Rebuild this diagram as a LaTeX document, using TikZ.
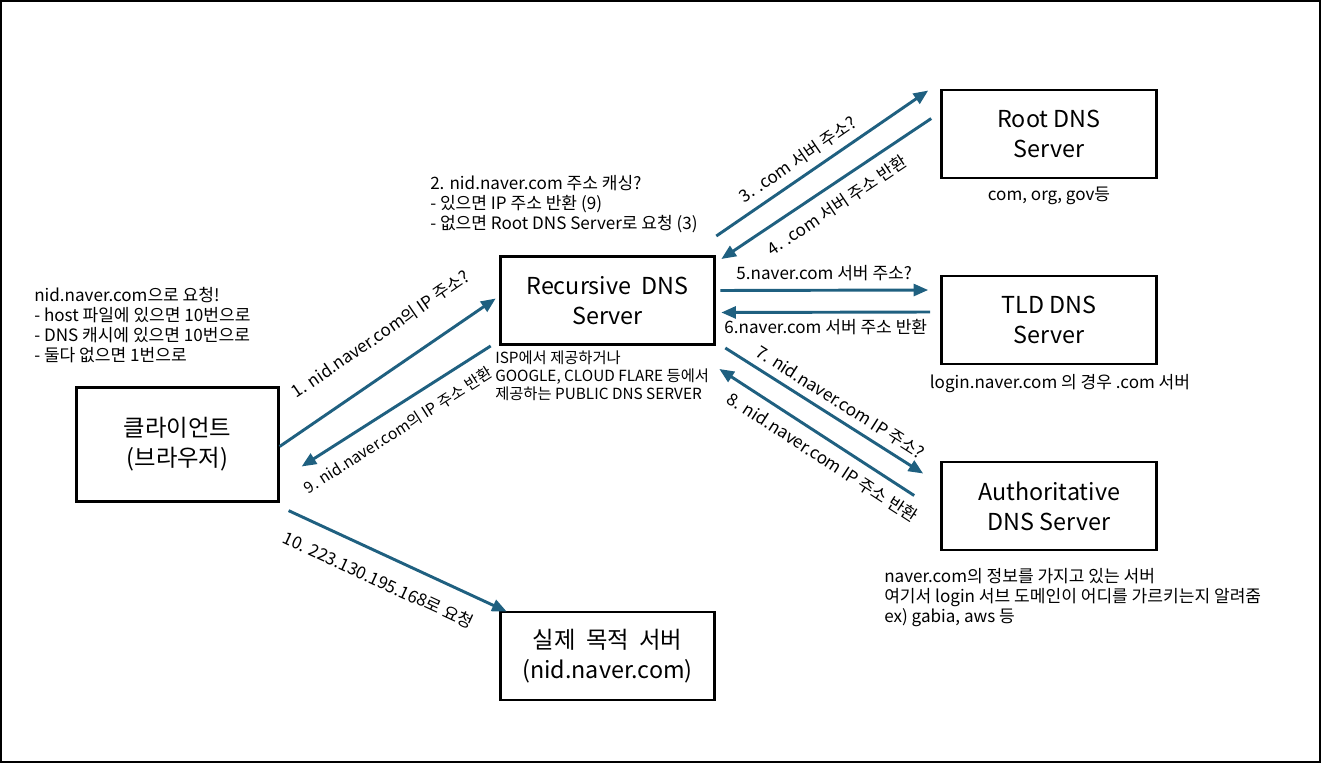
\documentclass[tikz,border=0pt]{standalone}
\usepackage{fontspec}
\setmainfont{Noto Sans CJK KR}
\usetikzlibrary{calc,arrows.meta}
\definecolor{arrowblue}{RGB}{31,96,128}
\tikzset{
  server/.style={draw, line width=2.2pt, minimum width=161pt, minimum height=66pt,
    align=center, font=\fontsize{17.5}{22.5}\selectfont},
  flow/.style={draw=arrowblue, line width=2.2pt, -{Triangle[length=11pt,width=9pt]}},
  lbl/.style={font=\fontsize{12.8}{15}\selectfont, sloped, inner sep=2pt},
  note/.style={font=\fontsize{12.8}{15}\selectfont, align=left, inner sep=0pt, anchor=north west},
}
\begin{document}
\begin{tikzpicture}[x=0.75pt, y=-0.75pt]
  % frame
  \useasboundingbox (0,0) rectangle (1321,763);
  \draw[line width=1.5pt] (1,1) rectangle (1320,762);
  % servers
  \node[server, minimum width=151pt, minimum height=85pt] (client) at (177.5,444.5) {클라이언트\\(브라우저)};
  \node[server] (rec) at (607.5,300.5) {Recursive \ DNS\\Server};
  \node[server] (root) at (1049,134) {Root DNS\\Server};
  \node[server] (tld) at (1049,320) {TLD DNS\\Server};
  \node[server] (auth) at (1049,506) {Authoritative\\DNS Server};
  \node[server] (real) at (607.5,656) {실제 \ 목적 \ 서버\\(nid.naver.com)};
  % notes
  \node[note] (clientnote) at (34,287) {nid.naver.com으로 요청!\\- host 파일에 있으면 10번으로\\- DNS 캐시에 있으면 10번으로\\- 둘다 없으면 1번으로};
  \node[note] (cachenote) at (430,175) {2. nid.naver.com 주소 캐싱?\\- 있으면 IP 주소 반환 (9)\\- 없으면 Root DNS Server로 요청 (3)};
  \node[note, font=\fontsize{11.5}{13.5}\selectfont] (recnote) at (495,351) {ISP에서 제공하거나\\GOOGLE, CLOUD FLARE 등에서\\제공하는 PUBLIC DNS SERVER};
  \node[note, anchor=center] (rootnote) at (1049,196) {com, org, gov등};
  \node[note, anchor=center] (tldnote) at (1060,384) {login.naver.com 의 경우 .com 서버};
  \node[note] (authnote) at (884,568) {naver.com의 정보를 가지고 있는 서버\\여기서 login 서브 도메인이 어디를 가르키는지 알려줌\\ex) gabia, aws 등};
  % client <-> recursive
  \draw[flow] ($(client.east)+(0,2)$) -- node[lbl, above=18pt, pos=0.56] {1. nid.naver.com의 IP 주소?} ($(rec.west)+(-3,-2)$);
  \draw[flow] ($(rec.south west)+(-8,0)$) -- node[lbl, below, inner sep=9.5pt, pos=0.55, font=\fontsize{11.8}{15}\selectfont] {9. nid.naver.com의 IP 주소 반환} ($(client.east)+(22,22)$);
  % recursive <-> root
  \draw[flow] ($(rec.north east)+(0,-19)$) -- node[lbl, above=4pt, pos=0.43] {3. .com 서버 주소?} ($(root.north west)+(-12,2)$);
  \draw[flow] ($(root.north west)+(-9,30)$) -- node[lbl, below, inner sep=8pt, pos=0.5] {4. .com 서버 주소 반환} ($(rec.north east)+(5,4)$);
  % recursive <-> tld
  \draw[flow] ($(rec.east)+(4,-10)$) -- node[lbl, above=4pt] {5.naver.com 서버 주소?} ($(tld.west)+(-12,-30)$);
  \draw[flow] ($(tld.west)+(-10,-8)$) -- node[lbl, below, inner sep=4.2pt] {6.naver.com 서버 주소 반환} ($(rec.east)+(5,12)$);
  % recursive <-> authoritative
  \draw[flow] ($(rec.south east)+(9,2)$) -- node[lbl, above=3pt, pos=0.54] {7. nid.naver.com IP 주소?} ($(auth.north west)+(-17,13)$);
  \draw[flow] ($(auth.north west)+(-26,35)$) -- node[lbl, below, inner sep=6.5pt, pos=0.42] {8. nid.naver.com IP 주소 반환} ($(rec.south east)+(3,23)$);
  % client -> real server
  \draw[flow] ($(client.south east)+(9,8)$) -- node[lbl, below=10pt, pos=0.46] {10. 223.130.195.168로 요청} ($(real.north west)+(8,1)$);
\end{tikzpicture}
\end{document}
